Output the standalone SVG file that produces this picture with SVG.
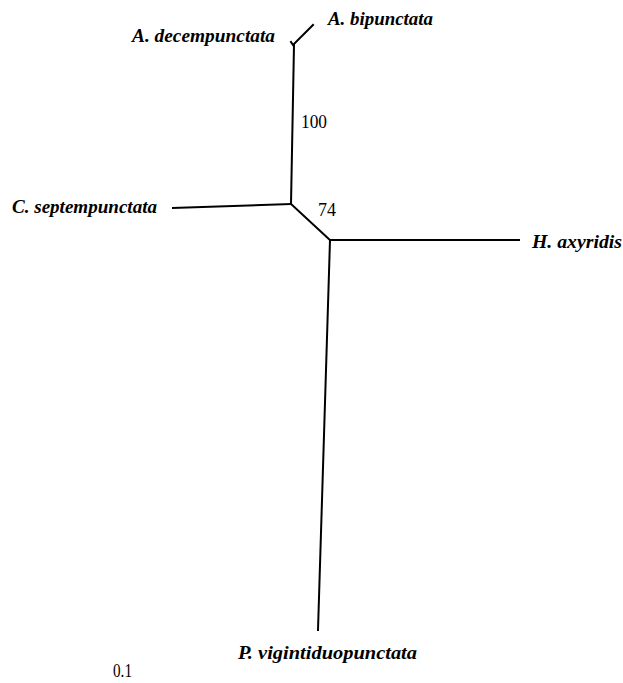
<svg xmlns="http://www.w3.org/2000/svg" width="623" height="683" viewBox="0 0 623 683">
<style>
.b{fill:none;stroke:#000;stroke-width:2;stroke-linecap:square}
.t{font-family:"Liberation Serif","Times New Roman",serif;font-weight:bold;font-style:italic;font-size:18px;fill:#000}
.n{font-family:"Liberation Serif","Times New Roman",serif;font-size:18px;fill:#000}
</style>
<rect width="623" height="683" fill="#fff"/>
<g id="connectors">
<path class="b" d="M291,42 L293,45 L313,25"/>
<path class="b" d="M294,45 L291,204"/>
<path class="b" d="M291,204 L173,208"/>
<path class="b" d="M291,204 L330,240"/>
<path class="b" d="M330,240 L519,240"/>
<path class="b" d="M330,240 L318,630"/>
</g>
<g id="node-a-decempunctata"><text class="t" x="132" y="42" textLength="143" lengthAdjust="spacingAndGlyphs">A. decempunctata</text></g>
<g id="node-a-bipunctata"><text class="t" x="328" y="25" textLength="105" lengthAdjust="spacingAndGlyphs">A. bipunctata</text></g>
<g id="node-c-septempunctata"><text class="t" x="12" y="213" textLength="145" lengthAdjust="spacingAndGlyphs">C. septempunctata</text></g>
<g id="node-h-axyridis"><text class="t" x="532" y="248" textLength="90" lengthAdjust="spacingAndGlyphs">H. axyridis</text></g>
<g id="node-p-vigintiduopunctata"><text class="t" x="238" y="659" textLength="179" lengthAdjust="spacingAndGlyphs">P. vigintiduopunctata</text></g>
<g id="labels">
<text class="n" x="301" y="128" textLength="26" lengthAdjust="spacingAndGlyphs">100</text>
<text class="n" x="318" y="216" textLength="18" lengthAdjust="spacingAndGlyphs">74</text>
<text class="n" x="113" y="677" font-size="15" textLength="19" lengthAdjust="spacingAndGlyphs">0.1</text>
</g>
</svg>
